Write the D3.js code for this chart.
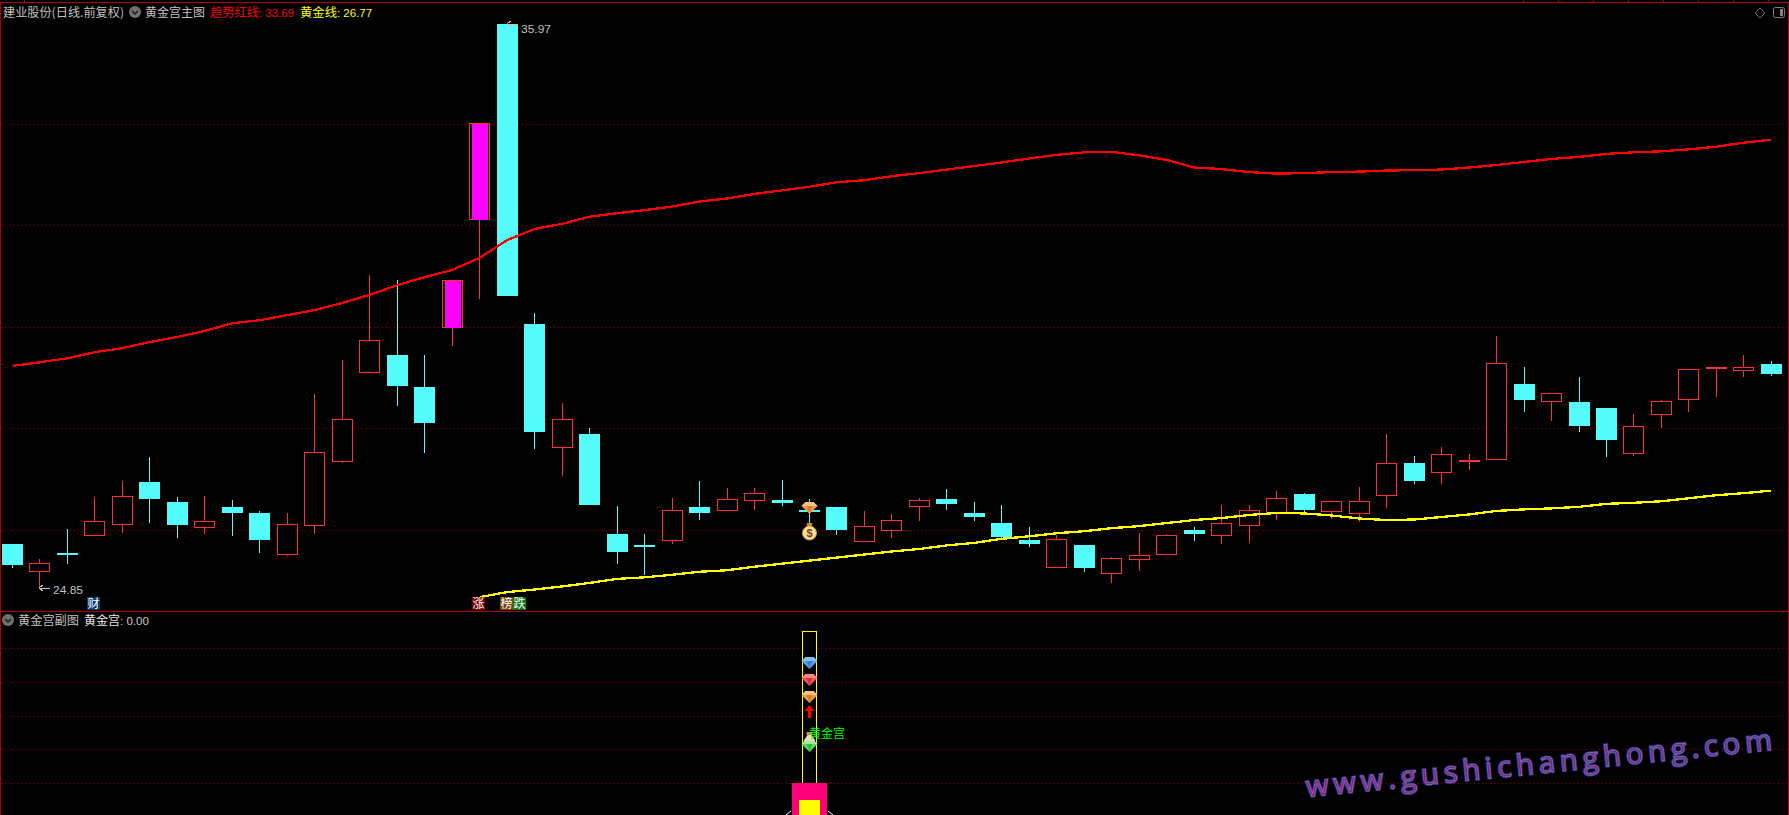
<!DOCTYPE html>
<html>
<head>
<meta charset="utf-8">
<style>
    html, body { margin: 0; padding: 0; background: #000; overflow: hidden; }
    svg { display: block; }
</style>
<script src="https://cdn.jsdelivr.net/npm/d3@7"></script>
</head>
<body>
<div id="chart"></div>
<script>
// daily bars
const opens = [25.72,25.19,25.54,25.90,26.10,26.94,26.55,26.06,26.45,26.33,25.51,26.10,27.36,29.09,29.44,28.81,30.00,32.11,35.97,30.05,27.64,27.89,25.92,25.69,25.78,26.45,26.39,26.59,26.59,26.39,26.45,25.78,26.00,26.47,26.60,26.33,26.13,25.80,25.25,25.70,25.15,25.43,25.51,25.99,25.90,26.08,26.35,26.70,26.37,26.33,26.67,27.31,27.14,27.36,27.38,28.87,28.54,28.52,28.40,27.50,28.27,28.56,29.19,29.15,29.27];
const highs = [25.72,25.42,26.01,26.64,26.96,27.43,26.64,26.66,26.59,26.37,26.33,28.67,29.35,31.02,30.92,29.44,30.92,34.01,35.97,30.27,28.50,28.00,26.47,25.92,26.62,26.96,26.82,26.82,26.98,26.60,26.45,26.37,26.31,26.62,26.80,26.55,26.49,26.05,25.89,25.70,25.46,25.93,25.91,26.05,26.49,26.49,26.76,26.72,26.56,26.84,27.89,27.45,27.63,27.49,29.82,29.21,28.69,29.01,28.40,28.28,28.56,29.16,29.21,29.44,29.33];
const lows = [25.25,24.85,25.32,25.87,25.94,26.13,25.84,25.92,25.87,25.54,25.48,25.92,27.32,29.09,28.44,27.51,29.63,30.55,30.60,27.59,27.06,26.49,25.32,25.11,25.72,26.19,26.37,26.39,26.47,26.11,25.89,25.78,25.84,26.17,26.39,26.17,25.82,25.66,25.25,25.16,24.95,25.18,25.51,25.78,25.72,25.74,26.19,26.33,26.21,26.15,26.43,26.90,26.90,27.18,27.38,28.32,28.14,27.93,27.43,27.45,28.00,28.32,28.62,29.01,29.03];
const closes = [25.30,25.34,25.50,26.17,26.66,26.60,26.09,26.18,26.33,25.80,26.11,27.53,28.19,29.73,28.83,28.10,30.92,34.01,30.60,27.93,28.19,26.49,25.56,25.67,26.38,26.33,26.60,26.72,26.53,26.37,25.99,26.07,26.20,26.58,26.50,26.25,25.85,25.72,25.81,25.24,25.44,25.50,25.89,25.91,26.14,26.38,26.62,26.39,26.56,26.56,27.31,26.96,27.50,27.37,29.28,28.56,28.69,28.04,27.77,28.04,28.53,29.16,29.20,29.20,29.07];
const limitUpBars = [16, 17];

const trendLine = [29.23,29.30,29.38,29.50,29.58,29.70,29.80,29.92,30.07,30.13,30.23,30.33,30.47,30.63,30.82,30.98,31.12,31.36,31.71,31.93,32.03,32.17,32.24,32.30,32.37,32.47,32.53,32.62,32.69,32.76,32.85,32.89,32.97,33.03,33.10,33.17,33.24,33.32,33.39,33.44,33.45,33.38,33.29,33.14,33.11,33.05,33.02,33.03,33.05,33.06,33.08,33.09,33.10,33.14,33.19,33.25,33.31,33.35,33.41,33.44,33.46,33.50,33.55,33.63,33.69];
const goldStart = 17;
const goldLine = [24.67,24.77,24.82,24.88,24.95,25.03,25.06,25.11,25.17,25.20,25.27,25.33,25.39,25.45,25.51,25.57,25.62,25.69,25.74,25.82,25.87,25.93,25.97,26.03,26.07,26.13,26.19,26.23,26.29,26.33,26.32,26.28,26.22,26.19,26.20,26.25,26.30,26.37,26.40,26.42,26.45,26.51,26.53,26.56,26.62,26.68,26.72,26.77];

const priceTicks = [26, 28, 30, 32, 34];
const subTicks = [20, 40, 60, 80, 100];

const signalBar = 29;
const subColumn = { outline: 110, pink: 20, yellow: 10 };
const subGems = [
    { value: 91.7, fill: "#5aa0f0", light: "#84bcf8", dark: "#2c62b8" },
    { value: 81.6, fill: "#f0505a", light: "#f88488", dark: "#b82434" },
    { value: 71.5, fill: "#f09a48", light: "#fcc080", dark: "#c06a20" },
    { value: 42.5, fill: "#60d860", light: "#98f098", dark: "#2c9a3c" }
];
const markers = [
    { text: "财", bar: 3, dx: 0, bg: "#0a3a6e" },
    { text: "涨", bar: 17, dx: 0, bg: "#7a0000" },
    { text: "榜", bar: 18, dx: 1, bg: "#7c4410" },
    { text: "跌", bar: 18, dx: 14, bg: "#0a7a10" }
];

const width = 1789, height = 815;
const cjk = "'Noto Sans CJK SC', sans-serif";
const num = "'Liberation Sans', sans-serif";
const grey = "#c0c0c0";

const svg = d3.select("#chart").append("svg")
    .attr("width", width)
    .attr("height", height)
    .style("background", "#000");

const x = d3.scaleLinear().domain([0, 64]).range([12.5, 1771.4]);
const y = d3.scaleLinear().domain([24.85, 35.97]).range([588, 24]);
const ySub = d3.scaleLinear().domain([20, 100]).range([783, 648]);

// frame
const frame = svg.append("g").attr("shape-rendering", "crispEdges").attr("stroke", "#b00000");
frame.append("line").attr("x1", 0).attr("x2", width).attr("y1", 2.5).attr("y2", 2.5);
frame.append("line").attr("x1", 0.5).attr("x2", 0.5).attr("y1", 2).attr("y2", height);
frame.append("line").attr("x1", width - 0.5).attr("x2", width - 0.5).attr("y1", 2).attr("y2", height);
frame.append("line").attr("x1", 0).attr("x2", width).attr("y1", 611.5).attr("y2", 611.5);
frame.selectAll(".tick")
    .data([24].concat(d3.range(1523, 1789, 35)))
    .enter()
    .append("line")
    .attr("x1", d => d + 0.5)
    .attr("x2", d => d + 0.5)
    .attr("y1", 0)
    .attr("y2", 2);

// grid
function drawGrid(ticks, scale) {
    svg.append("g").selectAll("line")
        .data(ticks)
        .enter()
        .append("line")
        .attr("x1", 2)
        .attr("x2", width - 2)
        .attr("y1", d => Math.round(scale(d)) + 0.5)
        .attr("y2", d => Math.round(scale(d)) + 0.5)
        .attr("stroke", "#a80000")
        .attr("stroke-dasharray", "1 3")
        .attr("shape-rendering", "crispEdges");
}
drawGrid(priceTicks, y);
drawGrid(subTicks, ySub);

// candles
const bars = d3.range(opens.length).map(i => ({
    i: i, open: opens[i], high: highs[i], low: lows[i], close: closes[i],
    up: closes[i] >= opens[i]
}));
const upColor = "#ff3232", downColor = "#54fcfc";
const cx = d => Math.floor(x(d.i)) + 0.5;

const candle = svg.append("g").attr("shape-rendering", "crispEdges")
    .selectAll("g")
    .data(bars)
    .enter()
    .append("g");

candle.append("line")
    .attr("x1", cx)
    .attr("x2", cx)
    .attr("y1", d => y(d.high))
    .attr("y2", d => y(d.low))
    .attr("stroke", d => d.up ? upColor : downColor);

candle.append("rect")
    .attr("x", d => d.up ? cx(d) - 10 : cx(d) - 10.5)
    .attr("width", d => d.up ? 20 : 21)
    .attr("y", d => Math.round(y(Math.max(d.open, d.close))) + (d.up ? 0.5 : 0))
    .attr("height", d => Math.max(Math.round(Math.abs(y(d.open) - y(d.close))), d.up ? 1 : 2))
    .attr("fill", d => d.up ? "#000" : downColor)
    .attr("stroke", d => d.up ? upColor : "none");

candle.filter(d => limitUpBars.includes(d.i)).append("rect")
    .attr("x", d => cx(d) - 8)
    .attr("width", 16)
    .attr("y", d => Math.round(y(d.close)) + 1)
    .attr("height", d => Math.round(y(d.open) - y(d.close)))
    .attr("fill", "#ff00ff");

// lines
const line = d3.line()
    .x(d => x(d.i))
    .y(d => y(d.v));

svg.append("path")
    .datum(trendLine.map((v, i) => ({ i: i, v: v })))
    .attr("d", line)
    .attr("fill", "none")
    .attr("stroke", "#ff0000")
    .attr("stroke-width", 2.3)
    .attr("shape-rendering", "crispEdges");

svg.append("path")
    .datum(goldLine.map((v, i) => ({ i: i + goldStart, v: v })))
    .attr("d", line)
    .attr("fill", "none")
    .attr("stroke", "#ffff00")
    .attr("stroke-width", 2.3)
    .attr("shape-rendering", "crispEdges");

// text helper
function label(text, px, py, color, font, size, len) {
    const t = svg.append("text")
        .attr("x", px)
        .attr("y", py)
        .attr("fill", color)
        .attr("font-family", font)
        .attr("font-size", size)
        .text(text);
    if (len) t.attr("textLength", len).attr("lengthAdjust", "spacingAndGlyphs");
    return t;
}

// high / low notes
function note(bar, value, textValue, yOffset, shift) {
    const ax = Math.floor(x(bar)) + 1 + shift, ay = Math.round(y(value));
    svg.append("path")
        .attr("d", `M${ax},${ay} h11 M${ax + 4},${ay - 3} L${ax},${ay} L${ax + 4},${ay + 3}`)
        .attr("fill", "none")
        .attr("stroke", grey)
        .attr("shape-rendering", "crispEdges");
    label(textValue, ax + 14, ay + yOffset, grey, num, 11.5, 30);
}
note(18, highs[18], highs[18].toFixed(2), 9, -1);
note(1, lows[1], lows[1].toFixed(2), 6, -1);

// headers
function chevron(px, py) {
    svg.append("circle").attr("cx", px).attr("cy", py).attr("r", 6).attr("fill", "#707070");
    svg.append("path")
        .attr("d", `M${px - 3},${py - 1} L${px},${py + 2} L${px + 3},${py - 1}`)
        .attr("fill", "none")
        .attr("stroke", "#1a1a1a")
        .attr("stroke-width", 1.5);
}
label("建业股份(日线.前复权)", 3, 17, grey, cjk, 12, 121);
chevron(135, 12);
label("黄金宫主图", 145, 17, grey, cjk, 12, 60);
label("趋势红线", 210, 17, "#ff0000", cjk, 12, 49);
label(": " + trendLine[64].toFixed(2), 259, 17, "#ff0000", num, 11.5, 35);
label("黄金线", 300, 17, "#ffff00", cjk, 12, 37);
label(": " + goldLine[47].toFixed(2), 337, 17, "#ffff00", num, 11.5, 35);

chevron(8, 620);
label("黄金宫副图", 18, 625, grey, cjk, 12, 61);
label("黄金宫", 84, 625, "#e8e8e8", cjk, 12, 36);
label(": 0.00", 120, 625, "#c8c8c8", num, 11.5, 29);

// top right buttons
svg.append("path")
    .attr("d", "M1760,8 L1765,13 L1760,18 L1755,13 Z")
    .attr("fill", "none")
    .attr("stroke", "#707070");
svg.append("rect")
    .attr("x", 1773.5).attr("y", 7.5).attr("width", 11).attr("height", 10).attr("rx", 2)
    .attr("fill", "none").attr("stroke", "#808080");
svg.append("rect")
    .attr("x", 1780).attr("y", 9).attr("width", 3).attr("height", 7).attr("fill", "#808080");

// marker tags on the bottom of the main panel
const tag = svg.append("g").selectAll("g")
    .data(markers)
    .enter()
    .append("g")
    .attr("transform", d => `translate(${Math.round(x(d.bar)) - 8 + d.dx},597)`);
tag.append("rect").attr("width", 13).attr("height", 13).attr("fill", d => d.bg);
tag.append("text")
    .attr("x", 6.5)
    .attr("y", 11)
    .attr("text-anchor", "middle")
    .attr("fill", "#fff")
    .attr("font-family", cjk)
    .attr("font-size", 12)
    .text(d => d.text);

// icons
function gem(px, py, c) {
    const g = svg.append("g").attr("transform", `translate(${px},${py})`);
    g.append("path").attr("d", "M-4,-5 H4 L8,-1 L0,7 L-8,-1 Z").attr("fill", c.fill);
    g.append("path").attr("d", "M-4,-5 H4 L8,-1 H-8 Z").attr("fill", c.light);
    g.append("path").attr("d", "M-3,-1 H3 L0,6 Z").attr("fill", c.dark).attr("opacity", 0.6);
}
function moneyBag(px, py) {
    const g = svg.append("g").attr("transform", `translate(${px},${py})`);
    g.append("path").attr("d", "M-3,-9 H3 L2,-5 H-2 Z").attr("fill", "#c88a30");
    g.append("circle").attr("cy", 1).attr("r", 7).attr("fill", "#f4e0a0").attr("stroke", "#d89a30");
    g.append("text").attr("y", 5).attr("text-anchor", "middle")
        .attr("font-family", num).attr("font-weight", "bold").attr("font-size", 11)
        .attr("fill", "#8a3a20").text("$");
}
const sigX = Math.floor(x(signalBar));

gem(sigX + 0.5, 507, subGems[2]);
moneyBag(sigX + 0.5, 532);

// sub panel column
const sub = svg.append("g").attr("shape-rendering", "crispEdges");
sub.append("rect")
    .attr("x", sigX - 7).attr("width", 14)
    .attr("y", ySub(subColumn.outline) + 0.5)
    .attr("height", ySub(subColumn.pink) - ySub(subColumn.outline))
    .attr("fill", "#000")
    .attr("stroke", "#ffff00");
sub.append("rect")
    .attr("x", sigX - 17).attr("width", 35)
    .attr("y", ySub(subColumn.pink))
    .attr("height", height - ySub(subColumn.pink))
    .attr("fill", "#ff0078");
sub.append("rect")
    .attr("x", sigX - 10).attr("width", 21)
    .attr("y", ySub(subColumn.yellow))
    .attr("height", height - ySub(subColumn.yellow))
    .attr("fill", "#ffff00");
svg.append("path")
    .attr("d", `M${sigX - 23},815 L${sigX - 18},811 M${sigX + 19},811 L${sigX + 24},815`)
    .attr("stroke", "#fff")
    .attr("fill", "none");

subGems.forEach(c => gem(sigX + 0.5, ySub(c.value), c));

svg.append("path")
    .attr("d", `M${sigX + 0.5},705 l5,6 h-3.5 v7 h-3 v-7 h-3.5 Z`)
    .attr("fill", "#ff0000");

const bottle = svg.append("g").attr("transform", `translate(${sigX + 0.5},737)`);
bottle.append("rect").attr("x", -3).attr("y", -5).attr("width", 6).attr("height", 3).attr("fill", "#c89030");
bottle.append("path").attr("d", "M-2,-2 H2 L6,4 H-6 Z").attr("fill", "#f0d8c0");

label("黄金宫", 809, 738, "#00ff00", cjk, 12, 36);

// watermark
const grad = svg.append("defs").append("linearGradient")
    .attr("id", "wm")
    .attr("x1", "0%").attr("x2", "100%");
grad.append("stop").attr("offset", "0%").attr("stop-color", "#96107c");
grad.append("stop").attr("offset", "100%").attr("stop-color", "#55288e");

function watermark(fill, stroke, sw) {
    svg.append("text")
        .attr("transform", "translate(1307,797) rotate(-5.8)")
        .attr("font-family", "'Open Sans', sans-serif")
        .attr("font-size", 29)
        .attr("textLength", 468)
        .attr("fill", fill)
        .attr("stroke", stroke)
        .attr("stroke-width", sw)
        .text("www.gushichanghong.com");
}
watermark("none", "#2c2a96", 2.4);
watermark("url(#wm)", "#7a6a9e", 0.9);
</script>
</body>
</html>
